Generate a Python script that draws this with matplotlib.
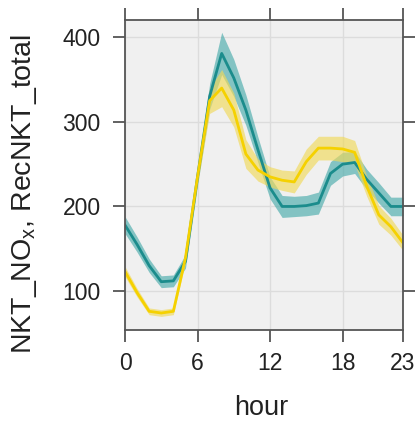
import matplotlib
matplotlib.use("Agg")
import matplotlib.pyplot as plt
import numpy as np

hours = list(range(24))
nox = [178, 155, 130, 111, 112, 135, 235, 330, 381, 352, 314, 267, 222, 200, 200, 201, 204, 239, 250, 252, 232, 216, 200, 200]
nox_ci = [10, 9, 8, 7, 7, 8, 10, 15, 25, 22, 18, 15, 13, 13, 12, 12, 13, 14, 14, 13, 12, 12, 11, 11]
rec = [123, 98, 76, 74, 76, 139, 235, 325, 340, 314, 262, 243, 235, 231, 229, 253, 269, 269, 268, 264, 224, 190, 176, 157]
rec_ci = [6, 5, 4, 4, 4, 5, 8, 15, 22, 20, 17, 13, 12, 12, 13, 15, 14, 14, 15, 14, 12, 11, 10, 9]
xticks = [0, 6, 12, 18, 23]
yticks = [100, 200, 300, 400]

plt.rcParams['font.family'] = ['Liberation Sans', 'DejaVu Sans']

fig = plt.figure(figsize=(4.15, 4.24), dpi=100)
ax = fig.add_axes([125/415, 94/424, 278/415, 310/424])
ax.set_facecolor('#f0f0f0')

h = np.array(hours)
for vals, ci, line_c, band_c in [(nox, nox_ci, '#1b8c8c', '#49abab'),
                                  (rec, rec_ci, '#f5d100', '#f0d95a')]:
    v = np.array(vals, float)
    c = np.array(ci, float)
    ax.fill_between(h, v - c, v + c, color=band_c, alpha=0.65, lw=0)
    ax.plot(h, v, color=line_c, lw=2)

ax.set_xlim(0, 23)
ax.set_ylim(53.9, 420.5)
ax.set_xticks(xticks)
ax.set_yticks(yticks)
ax.grid(True, color='#dcdcdc', lw=1)
ax.set_axisbelow(True)
for s in ax.spines.values():
    s.set_color('#555555')
    s.set_linewidth(1.3)
ax.tick_params(axis='both', which='both', direction='out', length=8.5, width=1.3,
               color='#555555', labelsize=16.5, labelcolor='#222222',
               top=True, right=True, labeltop=False, labelright=False)
ax.tick_params(axis='y', pad=9)
ax.tick_params(axis='x', pad=7)
ax.set_xlabel('hour', fontsize=19.5, color='#222222')
ax.set_ylabel(r'NKT_NO$_\mathregular{x}$, RecNKT_total', fontsize=20.5, color='#222222')
ax.xaxis.set_label_coords(0.49, -0.21)
ax.yaxis.set_label_coords(-0.31, 0.437)

fig.savefig('out.png', dpi=100)
